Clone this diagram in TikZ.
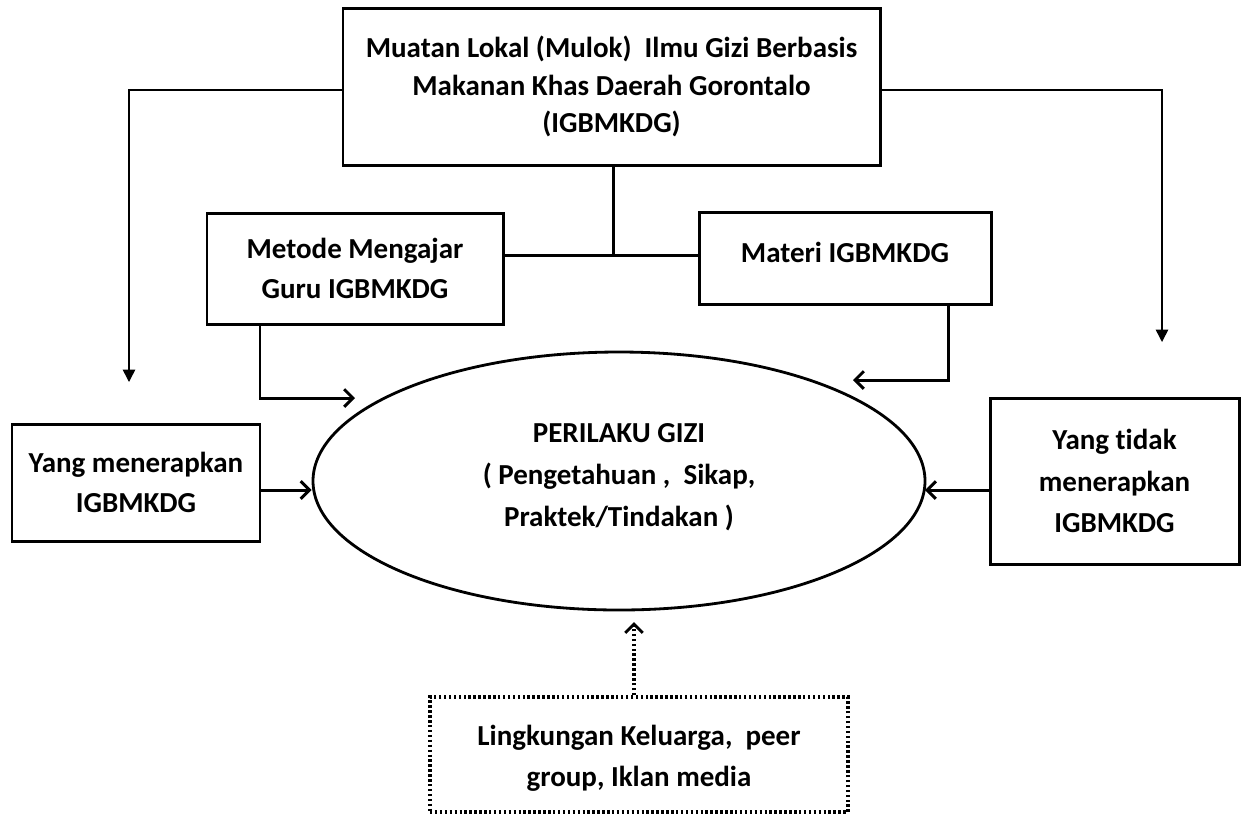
\documentclass[tikz,border=0pt]{standalone}
\usepackage{fontspec}
\setmainfont{Carlito}[Ligatures=NoCommon]
\usetikzlibrary{arrows.meta,shapes.geometric}
\begin{document}
\begin{tikzpicture}[x=0.02cm,y=-0.02cm,
  box/.style={draw,line width=1.7pt,rectangle,align=center,inner sep=0pt,font=\bfseries\fontsize{16.5}{21.5}\selectfont},
  dotbox/.style={draw,line width=2pt,dash pattern=on 1.4pt off 1.4pt,rectangle,inner sep=0pt},
  label/.style={align=center,inner sep=0pt,font=\bfseries\fontsize{16.5}{23.2}\selectfont},
  thinline/.style={line width=0.85pt},
  thickline/.style={line width=1.7pt},
  barb/.style={-{Straight Barb[length=5pt,width=10pt,line width=1.7pt]}},
  tri/.style={-{Triangle[length=7pt,width=7pt]}}
]
\useasboundingbox (0,0) rectangle (1247,816);
% nodes
\node[box,minimum width=537*0.02cm,minimum height=157*0.02cm] (top) at (611.5,86.5)
  {Muatan Lokal (Mulok)\ \ Ilmu Gizi Berbasis\\Makanan Khas Daerah Gorontalo\\(IGBMKDG)};
\node[box,minimum width=296*0.02cm,minimum height=111*0.02cm,font=\bfseries\fontsize{16.5}{22.7}\selectfont] (metode) at (355,268.5)
  {Metode Mengajar\\Guru IGBMKDG};
\node[box,minimum width=292*0.02cm,minimum height=92*0.02cm] (materi) at (845,258) {};
\node[label] (materitext) at (845,252) {Materi IGBMKDG};
\node[draw,line width=1.6pt,ellipse,minimum width=612*0.02cm,minimum height=258*0.02cm,inner sep=0pt] (peri) at (619,481) {};
\node[label,font=\bfseries\fontsize{16.5}{24}\selectfont] (peritext) at (619,477)
  {PERILAKU GIZI\\( Pengetahuan ,\ \ Sikap,\\Praktek/Tindakan )};
\node[box,minimum width=248*0.02cm,minimum height=117*0.02cm,font=\bfseries\fontsize{16.5}{22.7}\selectfont] (ya) at (136,482.5)
  {Yang menerapkan\\IGBMKDG};
\node[box,minimum width=249*0.02cm,minimum height=166*0.02cm,font=\bfseries\fontsize{16.5}{23.5}\selectfont] (tidak) at (1114.5,481)
  {Yang tidak\\menerapkan\\IGBMKDG};
\node[dotbox,minimum width=418*0.02cm,minimum height=115*0.02cm] (ling) at (639,754.5) {};
\node[label] (lingtext) at (639,758) {Lingkungan Keluarga,\ \ peer\\group, Iklan media};
% coordinates
\coordinate (tl) at (129,90);
\coordinate (tlend) at (129,382);
\coordinate (tr) at (1162,90);
\coordinate (trend) at (1162,342);
\coordinate (j) at (613,255);
\coordinate (mb) at (260,398);
\coordinate (mt) at (355,398);
\coordinate (xb) at (948,380);
\coordinate (xt) at (853,380);
\coordinate (rt) at (925,490);
\coordinate (bt) at (634,622);
% connectors
\draw[thinline,tri] (top.west |- tl) -- (tl) -- (tlend);
\draw[thinline,tri] (top.east |- tr) -- (tr) -- (trend);
\draw[thickline] (top.south -| j) -- (j);
\draw[thickline] (metode.east |- j) -- (materi.west |- j);
\draw[thickline,barb] (metode.south -| mb) -- (mb) -- (mt);
\draw[thickline,barb] (materi.south -| xb) -- (xb) -- (xt);
\draw[thickline,barb] (ya.east |- rt) -- (peri.west |- rt);
\draw[thickline,barb] (tidak.west |- rt) -- (rt);
\draw[line width=2pt,dash pattern=on 1.4pt off 1.4pt,barb] (ling.north -| bt) -- (bt);
\end{tikzpicture}
\end{document}
